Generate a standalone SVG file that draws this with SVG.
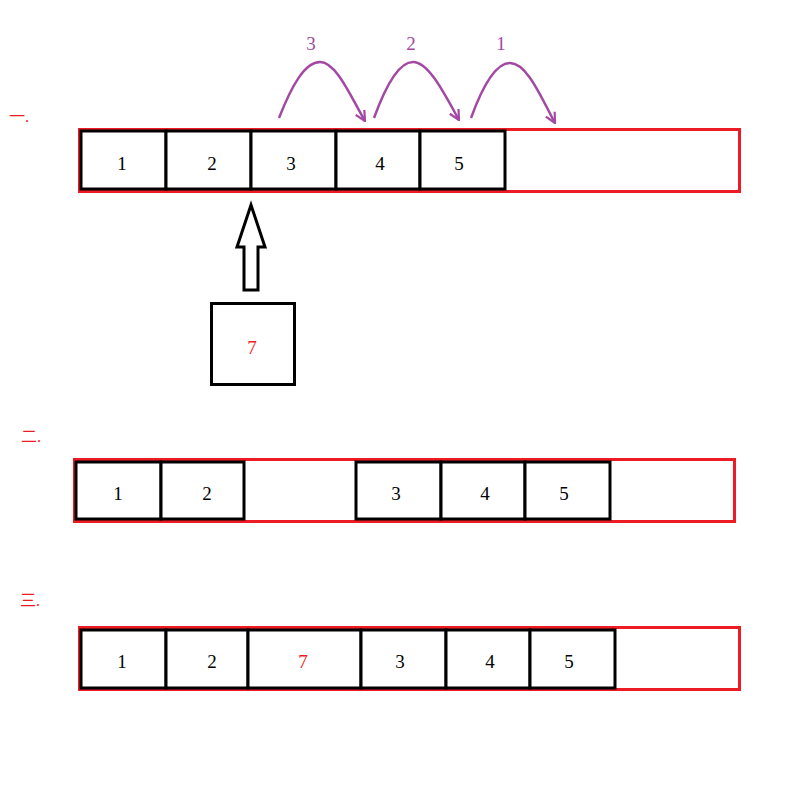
<svg xmlns="http://www.w3.org/2000/svg" width="807" height="789" viewBox="0 0 807 789">
<style>
.frame{fill:none;stroke:#ed1c24;stroke-width:3}
.cell{fill:#fff;stroke:#000;stroke-width:3}
.num{font-family:"Liberation Serif","Noto Sans CJK SC",serif;font-size:19px;text-anchor:middle;fill:#000}
.red{fill:#ed1c24}
.step{font-family:"Liberation Serif","Noto Sans CJK SC",serif;font-size:16px;fill:#ed1c24}
.arc{fill:none;stroke:#a349a4;stroke-width:2.5;marker-end:url(#ah)}
.plbl{font-family:"Liberation Serif",serif;font-size:19px;text-anchor:middle;fill:#a349a4}
</style>
<defs>
<marker id="ah" viewBox="0 0 12 12" refX="11" refY="6" markerWidth="12" markerHeight="12" markerUnits="userSpaceOnUse" orient="auto">
<path d="M1,1 L11,6 L1,11" fill="none" stroke="#a349a4" stroke-width="2.2"/>
</marker>
</defs>
<rect width="807" height="789" fill="#fff"/>

<g id="row1">
<text class="step" x="9" y="122">一.</text>
<rect class="frame" x="79.5" y="129.5" width="660" height="62"/>
<g id="r1c1"><rect class="cell" x="81" y="131" width="85" height="58"/><text class="num" x="122" y="170">1</text></g>
<g id="r1c2"><rect class="cell" x="166" y="131" width="85" height="58"/><text class="num" x="212" y="170">2</text></g>
<g id="r1c3"><rect class="cell" x="251" y="131" width="85" height="58"/><text class="num" x="291" y="170">3</text></g>
<g id="r1c4"><rect class="cell" x="336" y="131" width="84" height="58"/><text class="num" x="380" y="170">4</text></g>
<g id="r1c5"><rect class="cell" x="420" y="131" width="85" height="58"/><text class="num" x="459" y="170">5</text></g>
</g>

<g id="connectors">
<path class="arc" d="M279,118 C292,85 305,62 320,62 C336,62 350,95 365,121"/>
<path class="arc" d="M374,118 C386,85 399,62 413,62 C429,62 445,95 459,120"/>
<path class="arc" d="M471,118 C483,85 496,63 510,63 C527,63 541,97 555,123"/>
<text class="plbl" x="311" y="50">3</text>
<text class="plbl" x="411" y="50">2</text>
<text class="plbl" x="501" y="50">1</text>
<path d="M251,205 L265,247 L258,247 L258,290 L244,290 L244,247 L237,247 Z" fill="#fff" stroke="#000" stroke-width="3" stroke-linejoin="miter"/>
</g>

<g id="node7">
<rect class="cell" x="211.5" y="303.5" width="83" height="81"/>
<text class="num red" x="252" y="354">7</text>
</g>

<g id="row2">
<text class="step" x="21" y="442">二.</text>
<rect class="frame" x="74.5" y="459.5" width="660" height="62"/>
<g id="r2c1"><rect class="cell" x="76" y="462" width="85" height="57"/><text class="num" x="118" y="500">1</text></g>
<g id="r2c2"><rect class="cell" x="161" y="462" width="83" height="57"/><text class="num" x="207" y="500">2</text></g>
<g id="r2c3"><rect class="cell" x="356" y="462" width="85" height="57"/><text class="num" x="396" y="500">3</text></g>
<g id="r2c4"><rect class="cell" x="441" y="462" width="84" height="57"/><text class="num" x="485" y="500">4</text></g>
<g id="r2c5"><rect class="cell" x="525" y="462" width="85" height="57"/><text class="num" x="564" y="500">5</text></g>
</g>

<g id="row3">
<text class="step" x="20" y="606">三.</text>
<rect class="frame" x="79.5" y="627.5" width="660" height="62"/>
<g id="r3c1"><rect class="cell" x="81" y="630" width="85" height="58"/><text class="num" x="122" y="668">1</text></g>
<g id="r3c2"><rect class="cell" x="166" y="630" width="82" height="58"/><text class="num" x="212" y="668">2</text></g>
<g id="r3c3"><rect class="cell" x="248" y="630" width="113" height="58"/><text class="num red" x="303" y="668">7</text></g>
<g id="r3c4"><rect class="cell" x="361" y="630" width="85" height="58"/><text class="num" x="400" y="668">3</text></g>
<g id="r3c5"><rect class="cell" x="446" y="630" width="84" height="58"/><text class="num" x="490" y="668">4</text></g>
<g id="r3c6"><rect class="cell" x="530" y="630" width="85" height="58"/><text class="num" x="569" y="668">5</text></g>
</g>
</svg>
